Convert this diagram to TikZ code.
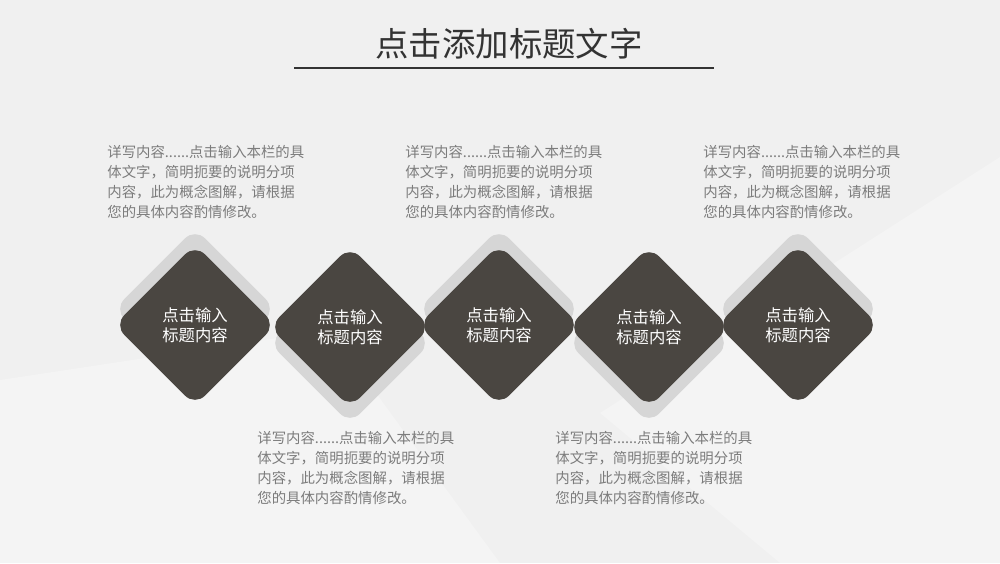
\documentclass[tikz,border=0pt]{standalone}
\usepackage{fontspec}
\setmainfont{Noto Sans CJK SC}
\usetikzlibrary{shapes.geometric}
\definecolor{tiledark}{HTML}{4A4641}
\definecolor{tilegray}{HTML}{D6D6D6}
\definecolor{bodygray}{HTML}{7C7C7C}
\definecolor{titlegray}{HTML}{333333}
\definecolor{paper}{HTML}{F0F0F0}
\definecolor{paperlight}{HTML}{F4F4F4}

\begin{document}
\begin{tikzpicture}[x=0.2mm,y=-0.2mm,
  tile/.style={diamond,aspect=1,minimum size=32.3mm,inner sep=0pt,rounded corners=2.8mm,
               fill=tiledark,text=white,align=center,font=\fontsize{9.3}{11.4}\selectfont},
  tileback/.style={tile,fill=tilegray},
  desc/.style={anchor=north west,align=left,inner sep=0pt,text=bodygray,
               font=\fontsize{8.2}{11.4}\selectfont}]
% page and faint background bands
\useasboundingbox (0,0) rectangle (1000,563);
\fill[paper] (0,0) rectangle (1000,563);
\fill[paperlight] (0,380) -- (330,330) -- (500,563) -- (0,563) -- cycle;
\fill[paperlight] (1000,157) -- (600,413) -- (780,563) -- (1000,563) -- cycle;

% title
\node[text=titlegray,font=\fontsize{19}{22}\selectfont] (title) at (509,44) {点击添加标题文字};
\coordinate (ruleL) at (294,68);
\coordinate (ruleR) at (714,68);
\draw[titlegray,line width=1.4pt] (ruleL) -- (ruleR);

% gray tiles behind
\node[tileback] (back1) at (195,309) {};
\node[tileback] (back2) at (350,343) {};
\node[tileback] (back3) at (499,309) {};
\node[tileback] (back4) at (649,343) {};
\node[tileback] (back5) at (798,309) {};

% dark tiles
\node[tile] (tile1) at (195,325) {点击输入\\标题内容};
\node[tile] (tile2) at (350,327) {点击输入\\标题内容};
\node[tile] (tile3) at (499,325) {点击输入\\标题内容};
\node[tile] (tile4) at (649,327) {点击输入\\标题内容};
\node[tile] (tile5) at (798,325) {点击输入\\标题内容};

% descriptions
\node[desc] (text1) at (107,145) {详写内容......点击输入本栏的具\\体文字，简明扼要的说明分项\\内容，此为概念图解，请根据\\您的具体内容酌情修改。};
\node[desc] (text3) at (405,145) {详写内容......点击输入本栏的具\\体文字，简明扼要的说明分项\\内容，此为概念图解，请根据\\您的具体内容酌情修改。};
\node[desc] (text5) at (703,145) {详写内容......点击输入本栏的具\\体文字，简明扼要的说明分项\\内容，此为概念图解，请根据\\您的具体内容酌情修改。};
\node[desc] (text2) at (257,431) {详写内容......点击输入本栏的具\\体文字，简明扼要的说明分项\\内容，此为概念图解，请根据\\您的具体内容酌情修改。};
\node[desc] (text4) at (555,431) {详写内容......点击输入本栏的具\\体文字，简明扼要的说明分项\\内容，此为概念图解，请根据\\您的具体内容酌情修改。};
\end{tikzpicture}
\end{document}
